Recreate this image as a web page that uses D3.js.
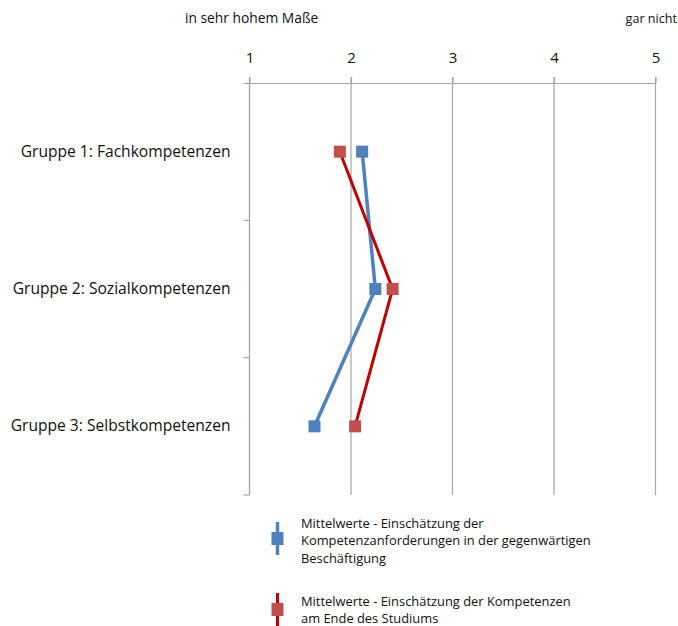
<!DOCTYPE html>
<html>
<head>
<meta charset="utf-8">
<script src="https://cdn.jsdelivr.net/npm/d3@7"></script>
<style>
  html, body { margin: 0; padding: 0; background: #fff; }
  svg { display: block; font-family: "Open Sans", sans-serif; }
</style>
</head>
<body>
<svg id="chart" width="678" height="626"></svg>
<script>
// Kompetenzgruppen (top to bottom)
const categories = [
  "Gruppe 1: Fachkompetenzen",
  "Gruppe 2: Sozialkompetenzen",
  "Gruppe 3: Selbstkompetenzen"
];
// Mittelwerte: aktuelle Beschäftigung
const valuesJob = [2.11, 2.24, 1.64];
// Mittelwerte: Ende des Studiums
const valuesStudy = [1.89, 2.41, 2.04];
// Skala 1..5
const tickValues = [1, 2, 3, 4, 5];
const scaleEndLabels = ["in sehr hohem Maße", "gar nicht"];
const seriesNames = [
  ["Mittelwerte - Einschätzung der", "Kompetenzanforderungen in der gegenwärtigen", "Beschäftigung"],
  ["Mittelwerte - Einschätzung der Kompetenzen", "am Ende des Studiums"]
];

const svg = d3.select("#chart");
const plotTop = 83, plotBottom = 495, plotLeft = 249.5, plotRight = 655.5;
const textColor = "#111";

const x = d3.scaleLinear().domain([1, 5]).range([plotLeft, plotRight]);
const y = d3.scaleBand().domain(categories).range([plotTop, plotBottom]);

const gridColor = "#a6a6a6";

// vertical gridlines
svg.append("g")
  .selectAll("line")
  .data(tickValues)
  .join("line")
  .attr("x1", d => x(d)).attr("x2", d => x(d))
  .attr("y1", plotTop - 6).attr("y2", plotBottom)
  .attr("stroke", gridColor).attr("stroke-width", 1.2);

// value axis on top
const xAxis = svg.append("g")
  .attr("transform", `translate(0,${plotTop})`)
  .call(d3.axisTop(x).tickValues(tickValues).tickFormat(d3.format("d")).tickSize(6).tickPadding(14));
xAxis.select(".domain").attr("stroke", gridColor).attr("stroke-width", 1.2)
  .attr("d", `M${plotLeft - 6},0.5H${plotRight}`);
xAxis.selectAll(".tick line").attr("stroke", gridColor).attr("stroke-width", 1.2);
xAxis.selectAll(".tick text").attr("font-size", 15).attr("fill", textColor).attr("font-family", "'Open Sans', sans-serif");

// category axis on the left: line and boundary ticks
const boundaries = categories.map(c => y(c)).concat([plotBottom]);
svg.append("line")
  .attr("x1", plotLeft).attr("x2", plotLeft).attr("y1", plotTop).attr("y2", plotBottom)
  .attr("stroke", gridColor).attr("stroke-width", 1.2);
svg.append("g")
  .selectAll("line")
  .data(boundaries.slice(1))
  .join("line")
  .attr("x1", plotLeft - 6).attr("x2", plotLeft)
  .attr("y1", d => d).attr("y2", d => d)
  .attr("stroke", gridColor).attr("stroke-width", 1.2);

// category labels
const yAxis = svg.append("g")
  .attr("transform", `translate(${plotLeft},0)`)
  .call(d3.axisLeft(y).tickSize(0).tickPadding(19));
yAxis.select(".domain").remove();
yAxis.selectAll(".tick text").attr("font-size", 15.6).attr("fill", textColor).attr("font-family", "'Open Sans', sans-serif");

// scale end labels
svg.append("text").attr("x", 185).attr("y", 23).attr("font-size", 13.8).attr("fill", textColor)
  .text(scaleEndLabels[0]);
svg.append("text").attr("x", 677).attr("y", 23).attr("font-size", 12.6).attr("fill", textColor)
  .attr("text-anchor", "end").text(scaleEndLabels[1]);

// series
const series = [
  { values: valuesJob, line: "#4f81bd", marker: "#4f81bd", width: 3.5 },
  { values: valuesStudy, line: "#c00000", marker: "#c0504d", width: 3 }
];
const cy = c => y(c) + y.bandwidth() / 2;
const lineGen = d3.line().x(d => x(d.v)).y(d => cy(d.c));
const ms = 12;

series.forEach(s => {
  const pts = categories.map((c, i) => ({ c, v: s.values[i] }));
  svg.append("path").datum(pts)
    .attr("d", lineGen).attr("fill", "none")
    .attr("stroke", s.line).attr("stroke-width", s.width)
    .attr("stroke-linejoin", "round");
  svg.append("g").selectAll("rect").data(pts).join("rect")
    .attr("x", d => x(d.v) - ms / 2).attr("y", d => cy(d.c) - ms / 2)
    .attr("width", ms).attr("height", ms)
    .attr("fill", s.marker);
});

// legend: vertical key line with marker, text block to the right
const legend = svg.append("g");
const legendTops = [522, 593];
const legendTextTops = [528, 606];
seriesNames.forEach((lines, i) => {
  const s = series[i];
  const g = legend.append("g");
  const t = legendTops[i];
  g.append("line").attr("x1", 277.5).attr("x2", 277.5).attr("y1", t).attr("y2", t + 33)
    .attr("stroke", s.line).attr("stroke-width", s.width);
  g.append("rect").attr("x", 277.5 - 6).attr("y", t + 10).attr("width", 12).attr("height", 13)
    .attr("fill", s.marker);
  lines.forEach((ln, j) => {
    g.append("text").attr("x", 301).attr("y", legendTextTops[i] + j * 17.3)
      .attr("font-size", 12.9).attr("fill", textColor).text(ln);
  });
});
</script>
</body>
</html>
